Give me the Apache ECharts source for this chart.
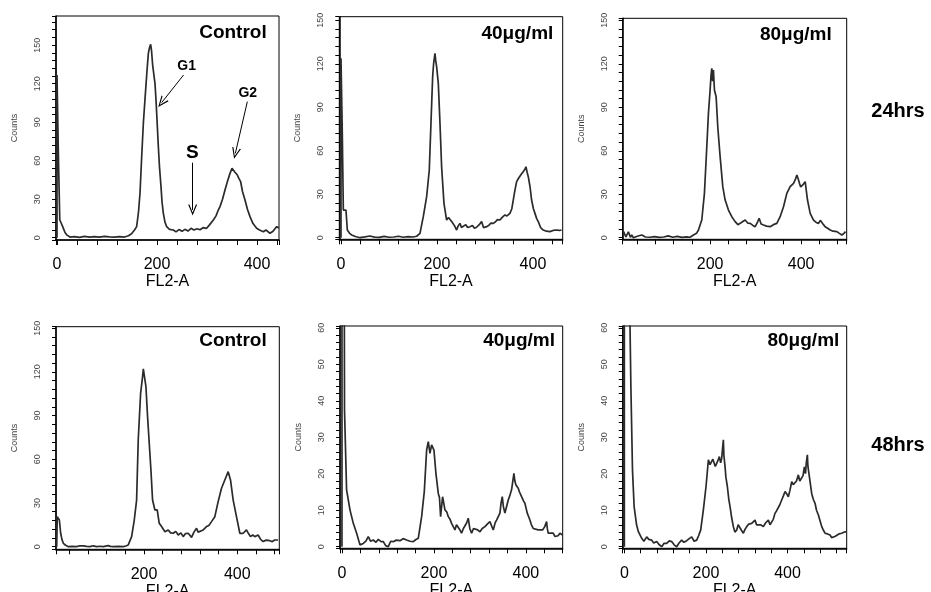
<!DOCTYPE html>
<html>
<head>
<meta charset="utf-8">
<script src="https://cdn.jsdelivr.net/npm/echarts@6/dist/echarts.min.js"></script>
<style>html,body{margin:0;padding:0;background:#fff}#c{width:931px;height:592px}</style>
</head>
<body>
<div id="c"></div>
<script>
// ---- data: [FL2-A channel, counts] ----
const ctrl24 = [[0,0],[0,126.7],[2,126.7],[2.5,69.6],[5,69.6],[5.5,14],[9,13],[12,8],[16,4],[20,2],[26,0.5],[35,0.8],[45,0.3],[55,1],[65,0.5],[75,0.9],[85,0.4],[95,1],[105,0.6],[115,0.4],[125,0.8],[135,0.5],[143,1.5],[149,3],[155,6],[159.3,8.6],[163,20],[166,34.6],[169,60],[172.7,89.1],[176,108],[178,119],[180,130],[182.7,143.6],[185,148],[187.3,150.6],[189,146],[191.3,134.5],[194.7,134.5],[196,120],[198,107.3],[200,92],[202.7,70.9],[205,55],[208,39.8],[210,28],[212.7,19],[216,12],[219.3,8.6],[225,6.5],[232.7,6],[238,4.5],[244,6.3],[250,5],[256,6.5],[262,5.2],[268,7.3],[274,6],[280,7],[286,6.2],[292,7.8],[299.3,7.3],[305,10],[308,9],[312.7,13.8],[318,17],[322,21],[326,24.2],[331,30],[336,37.2],[341,44],[346,50.1],[350,54],[352.7,55.3],[356,51],[360.7,48.8],[364,46],[367.3,43.6],[371,36],[376,29.4],[381,22],[386,16.4],[392,11],[399.3,7.3],[405,6],[412.7,4.7],[418,6],[426,3.4],[432,5],[436,7],[439.3,8.6],[444,7.5]];
const d40h24 = [[0,0],[0,123.8],[2,123.8],[2.8,70.9],[4.5,70.9],[4.9,19.1],[10.4,19.1],[13.2,5.3],[18,3],[22.2,1.9],[30,0.8],[39.6,0],[50,0.6],[60,1.2],[70,0.4],[80,0.2],[90,0.9],[100,0.3],[110,0.5],[120,1],[130,0.3],[140,0.7],[150,0.5],[157.6,1],[164.6,3],[171.5,14.5],[178.5,28.3],[184,46.7],[187.5,78.9],[191,111.1],[193,120],[195.8,127.2],[197.5,122],[199.3,118],[202.8,106.5],[206.3,78.9],[209.7,49],[214.6,23.7],[220.1,12.2],[224,14],[227.1,14.5],[231,11],[234,9.9],[237,8],[241,5.3],[244,8],[247.9,9.9],[251,7],[254.9,7.6],[260,9],[264,7],[268.8,7.6],[274,8.5],[278,6.5],[282.6,7.2],[288,9],[293,11.1],[297,7],[303.5,7.6],[308,8.5],[312,10],[317.4,9.9],[322,11],[326,12.5],[331.3,12.2],[336,14],[341.7,15.7],[346,15],[352,16.8],[356,20],[359,26],[362,32],[366,38.7],[370,41],[373,42.1],[376,44],[379.9,45.6],[383,47],[385.4,49],[388,45],[390.3,42.1],[394,35],[397.2,26],[401,20],[404.2,16.8],[408,13],[411.1,11.1],[416,7],[421.5,5.3],[428,4.5],[435.4,4.2],[442,5],[449.3,5.3],[455,5],[459.7,5.3]];
const d80h24 = [[10,4.2],[13.2,4.2],[15,0.5],[18,0.3],[20.5,4],[23,4],[25,0.3],[27.8,2],[31.5,0],[40,1],[50,1.9],[58,0.5],[68,0.3],[78,0.8],[88,0.2],[98,0.5],[108,1.3],[118,0.3],[128,0.9],[138,0.2],[148,0.6],[156,0.3],[163.4,1.9],[170,3],[174.4,5.3],[181.7,12.2],[187.5,30.6],[192.7,62.8],[196.3,85.8],[200,101.9],[202,112],[203.7,116.9],[205.5,108],[207.3,115.7],[209.5,101.9],[213.2,97.3],[216.8,76.6],[222,55.9],[227.8,35.2],[233,26],[240.3,19.1],[247.6,14.5],[255,11.1],[261,9],[266,9.9],[271,11],[277,12.2],[283,10],[288,9.9],[294,8.5],[299,7.6],[303,10],[307.7,13.4],[312,9.5],[317.2,8.8],[324,8],[331.9,7.6],[339,9],[346.5,9.9],[353.8,14.5],[361.2,21.4],[368.5,30.6],[375.8,35.2],[383.2,37.5],[387,40],[390.5,43.3],[393,41],[396.3,37.5],[399,35],[401.5,34.1],[405,37],[408.8,38.7],[413.9,26],[419.8,16.8],[427.1,12.2],[433,10.5],[438.1,9.9],[442,12],[445.4,11.1],[449,9],[452.7,7.6],[458,6.5],[463.7,5.3],[470,4.5],[478.4,4.2],[484,3],[489.4,1.9],[494,3],[497.4,4.2]];
const ctrl48 = [[12.8,0],[14,20.6],[16,20.6],[18.5,18.3],[21.3,9.2],[24,5],[27,2.3],[32,1],[37.8,0],[46,0.2],[55.6,0],[62,0.6],[69.9,0.5],[77,0.2],[84.2,0],[91,0.6],[98.4,0],[105,0.3],[112.7,0],[118,0.4],[123.4,0.7],[128,0.2],[134.1,0],[145,0.2],[155.5,0],[161,0.5],[166.2,1.2],[173.4,6.9],[179.1,18.3],[184.1,32],[187.6,73.2],[192.7,105.3],[196.9,116.7],[198.5,122],[200.5,121.3],[204.1,109.9],[207.6,89.3],[211.2,71],[214.8,52.7],[218.3,32],[223.3,25.2],[228.3,25.2],[232.6,16],[237.6,13.8],[244.8,10.3],[251.9,11.5],[257,9.5],[262.6,9.2],[268,10.5],[273.3,8],[279,9.5],[284,6.9],[289,9],[294.7,9.2],[301.9,6.4],[307,10],[312.6,12.6],[316,10],[319.7,9.2],[326.8,11.5],[334,13.8],[339,14.5],[344.7,17.2],[351.8,20.6],[358.9,30.9],[366.1,40.1],[373.2,45.8],[377,47],[380.4,51.5],[385.4,45.8],[391.1,32],[398.2,20.6],[405.4,9.2],[412.5,9.2],[419.6,11.5],[424,9],[428.2,6.9],[433,8],[437.5,6.9],[444.6,8],[450,5],[455.3,3.5],[462,4.5],[469.6,4.1],[475,3.5],[480.3,4.6],[487.4,4.6]];
const d40h48 = [[0,0],[0,75],[5,75],[5.5,37.5],[9,37.5],[10,15.6],[14,15.6],[17.4,10.1],[24.6,6.4],[31.9,3.7],[39.1,0.5],[46.4,0.9],[52,1.5],[57.2,2.75],[62,1.5],[68.1,1.84],[74,1.2],[79,2],[85,1.4],[89.9,1.38],[95,0.3],[100.7,0],[106,1.5],[111.6,1.38],[118,1.8],[126.1,1.65],[133,2.2],[140.6,1.84],[148,1.5],[155.1,1.38],[160,1.9],[165.9,2.3],[173.2,8.24],[179,15.1],[184.1,26.5],[187.7,28.8],[191.3,25.6],[194.9,27.9],[200,26.5],[204.3,20.1],[209.4,14.6],[212,13.5],[214.5,8.24],[218.8,13.7],[223.9,10.1],[228,9.5],[231.2,8.24],[235,7.5],[238.4,6.4],[242,5.5],[245.7,4.6],[249,6],[252.9,5.5],[257,4.5],[260.1,3.7],[264,5],[267.4,5.5],[271,6.5],[274.6,7.8],[278,5],[281.9,3.7],[286,5],[289.1,5.5],[295,4.6],[300,4.1],[305,5],[310.9,5.5],[316,6.2],[321.7,6.9],[326,5.5],[329,4.6],[333,6.5],[336.2,7.3],[343.5,9.2],[346,12],[348.6,13.7],[351,11],[354.3,9.2],[358,11],[361.6,12.8],[365,14],[368.8,15.6],[371,17.5],[373.9,20.1],[376,18],[378.3,16.9],[383.3,16],[386,15],[390.6,13.7],[395,12.5],[397.8,11.9],[402.9,9.2],[408.7,7.3],[412,6],[415.9,5],[420,4.5],[426.8,4.6],[431,4.8],[436.2,4.6],[441,5.5],[444.9,6.9],[446.5,5],[448.5,3.7],[452,4],[459.4,3.7],[463,2.8],[466.7,2.3],[470,3],[473.9,3.7],[476,3.2],[479.7,3.2]];
const d80h48 = [[0,0],[0,75],[10,75],[12,70],[14,60],[16,44.3],[18,44.3],[20,21],[22.1,21],[24,11],[26.2,11],[30,6],[34.4,4.1],[42.6,2.3],[48,1.5],[54.8,2.7],[60,2],[67.1,1.8],[72,1],[79.3,1.4],[85,0.6],[91.6,0],[97,0.9],[103.8,0.9],[110,1.6],[116.1,1.4],[122,0.5],[128.4,0],[134,1],[140.6,1.8],[146,1.2],[152.9,1.65],[159,2.2],[165.1,2.7],[171,1.5],[177.4,1.8],[182,3],[187.2,4.6],[193.7,10.1],[200.2,16.5],[203,20],[206,23.8],[210,22.5],[214.1,22.9],[217,24],[219.9,24.2],[223,22],[226.4,22.4],[229,23.5],[232.9,24.7],[236,23],[238.6,24.2],[240,26],[242.7,29.3],[244,25],[246.8,22],[249,19],[252.5,16.5],[256,13],[259.1,11],[263,8],[267.2,5.5],[271,4],[275.4,4.6],[279,6],[283.6,6.4],[287,4.5],[291.7,3.7],[296,4.8],[299.9,5.5],[305,6.2],[312.2,6.4],[316,6.8],[320.3,7.3],[324,6],[328.5,6.4],[334,6],[340.8,5.5],[346,6.5],[353,7.3],[357,6],[361.2,5.5],[365,7.5],[369.4,9.2],[373,9.8],[377.5,10.1],[381,11.5],[385.7,12.8],[390,14],[393.9,15.1],[398,14.5],[402,13.7],[406,15.5],[410.2,17.8],[414,17],[418.4,16.5],[422,18],[426.5,19.7],[430,18],[434.7,17.8],[438,19.5],[441.3,21.9],[444,20],[446,23],[448.6,25.2],[450,22],[453.5,19.2],[459.2,14.6],[463,13],[467.4,11.9],[471,10],[475.6,8.7],[480,7],[483.8,5.5],[488,4.5],[491.9,3.7],[498,3.5],[504.2,3.2],[508,2.5],[512.3,2.3],[516,2.8],[520.5,2.7],[526,3.5],[532.8,3.7],[537,4],[540.9,4.1],[545,4]];

const panelTitles = ['Control','40\u03bcg/ml','80\u03bcg/ml','Control','40\u03bcg/ml','80\u03bcg/ml'];
const rowLabels = ['24hrs','48hrs'];
const xLabelStep = 200;
const xTickStep = 40;
const yLabelSteps = [30,30,30,30,10,10];
const yTickSteps = [6,6,6,6,2,2];
const xName = 'FL2-A';
const yName = 'Counts';

// ---- layout ----
const FONT = '"Liberation Sans", Arial, Helvetica, sans-serif';
const grids = [
  {left:56, top:16, width:223, height:224},
  {left:339.3, top:16.7, width:223.4, height:222.6},
  {left:622.7, top:18.3, width:224, height:221},
  {left:56, top:326.7, width:223.3, height:222.6},
  {left:340, top:326, width:222.7, height:222.3},
  {left:622.7, top:326, width:224, height:222.3}
];
const xRanges = [[-2,444],[-3.5,462],[8,500],[11.3,490],[-4.3,480],[-4,545]];
const yRanges = [[-1.8,172.7],[-1.1,152.5],[-1.1,151.4],[-1.8,151],[-0.44,60.5],[-0.44,60.5]];
const seriesData = [ctrl24, d40h24, d80h24, ctrl48, d40h48, d80h48];

const isMult = (v, s) => Math.abs(v / s - Math.round(v / s)) < 1e-6;

const chart = echarts.init(document.getElementById('c'), null, {renderer:'canvas'});

const xAxes = grids.map((g,i)=>({
  type:'value', gridIndex:i, min:xRanges[i][0], max:xRanges[i][1],
  minInterval:xTickStep, maxInterval:xTickStep,
  axisLine:{show:true, onZero:false, lineStyle:{color:'#000', width:1.5}},
  axisTick:{show:true, length:5, lineStyle:{color:'#000', width:1}},
  splitLine:{show:false},
  axisLabel:{fontSize:16, color:'#000', margin:17, fontFamily:FONT,
    formatter:v=> (isMult(v, xLabelStep) ? String(Math.round(v)) : '')},
  name:xName, nameLocation:'middle', nameGap:34,
  nameTextStyle:{fontSize:16, color:'#000', fontFamily:FONT}
}));
const yAxes = grids.map((g,i)=>({
  type:'value', gridIndex:i, min:yRanges[i][0], max:yRanges[i][1],
  minInterval:yTickSteps[i], maxInterval:yTickSteps[i],
  axisLine:{show:true, onZero:false, lineStyle:{color:'#000', width:1.5}},
  axisTick:{show:true, length:4, lineStyle:{color:'#000', width:1}},
  splitLine:{show:false},
  axisLabel:{fontSize:9, color:'#444', rotate:90, margin:14, fontFamily:FONT,
    formatter:v=> (isMult(v, yLabelSteps[i]) ? String(Math.round(v)) : '')},
  name:yName, nameLocation:'middle', nameGap:37, nameRotate:90,
  nameTextStyle:{fontSize:9, color:'#444', fontFamily:FONT}
}));

const chevron = 'path://M5,0 L10,10 L8.6,10 L5,2.6 L1.4,10 L0,10 Z';
const series = seriesData.map((d,i)=>{
  const s = {
    type:'line', xAxisIndex:i, yAxisIndex:i, data:d, symbol:'none', showSymbol:false,
    clip:true, lineStyle:{color:'#2b2b2b', width:1.7}, silent:true, animation:false
  };
  if (i === 0) {
    s.markLine = {
      silent:true, symbol:['none', chevron], symbolSize:[9,11], animation:false,
      lineStyle:{color:'#000', width:1, type:'solid'}, label:{show:false},
      data:[
        [{coord:[253,126.7]},{coord:[209.3,105.2]}],
        [{coord:[380.7,106]},{coord:[356.7,65.7]}],
        [{coord:[271.3,58.4]},{coord:[271.3,21.6]}]
      ]
    };
    const lab = (t, c, fs) => ({coord:c, symbol:'rect', symbolSize:1,
      itemStyle:{color:'rgba(0,0,0,0)'},
      label:{show:true, position:'inside', formatter:t, fontWeight:'bold', fontSize:fs, color:'#000', fontFamily:FONT}});
    s.markPoint = {silent:true, animation:false, data:[
      lab('G1',[259.3,133.3],14), lab('G2',[381.6,112.5],14), lab('S',[270.7,65.8],19)
    ]};
  }
  return s;
});

// panel titles (right aligned, inside each frame) and row labels
const titlePos = [[266.7,32.5],[553.3,33.5],[831.7,34.5],[266.7,341],[555,341],[839.3,341]];
const graphics = panelTitles.map((t,i)=>({
  type:'text', x:titlePos[i][0], y:titlePos[i][1], silent:true,
  style:{text:t, fill:'#000', font:'bold 19px ' + FONT, textAlign:'right', textVerticalAlign:'middle'}
}));
const rowPos = [[898,111],[898,445.5]];
rowLabels.forEach((t,i)=>graphics.push({
  type:'text', x:rowPos[i][0], y:rowPos[i][1], silent:true,
  style:{text:t, fill:'#000', font:'bold 20px ' + FONT, textAlign:'center', textVerticalAlign:'middle'}
}));

chart.setOption({
  animation:false,
  backgroundColor:'#fff',
  textStyle:{fontFamily:FONT},
  grid: grids.map(g=>Object.assign({show:true, borderColor:'#000', borderWidth:1, containLabel:false, outerBoundsMode:'none'}, g)),
  xAxis:xAxes, yAxis:yAxes, series:series, graphic:graphics
});
</script>
</body>
</html>
